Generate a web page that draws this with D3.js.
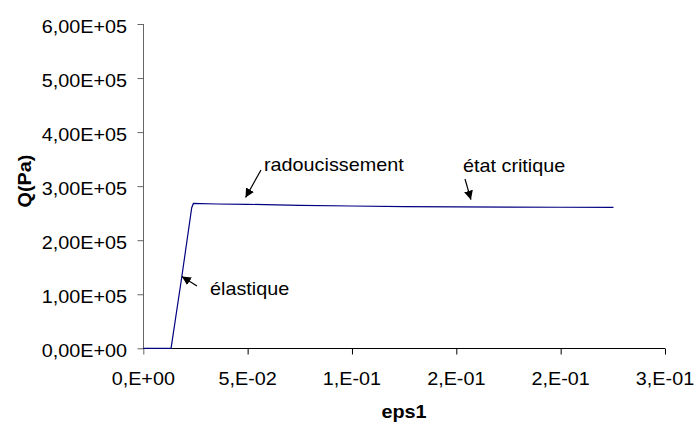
<!DOCTYPE html>
<html>
<head>
<meta charset="utf-8">
<script src="https://cdn.jsdelivr.net/npm/d3@7"></script>
<style>
  html, body { margin: 0; padding: 0; background: #fff; }
  svg { display: block; }
  text { font-family: "Liberation Sans", Arial, sans-serif; fill: #000; }
</style>
</head>
<body>
<svg id="chart" width="698" height="427"></svg>
<script>
// ---- data ----
const eps1 = [0, 0.0133, 0.0184, 0.0232, 0.0240, 0.035, 0.05, 0.075, 0.1, 0.125, 0.15, 0.175, 0.2, 0.2253];
const qPa  = [0, 0, 1.31e5, 2.60e5, 2.68e5, 2.67e5, 2.664e5, 2.645e5, 2.633e5, 2.622e5, 2.615e5, 2.612e5, 2.61e5, 2.607e5];
const xTickValues = [0, 0.05, 0.10, 0.15, 0.20, 0.25];
const xTickLabels = ["0,E+00", "5,E-02", "1,E-01", "2,E-01", "2,E-01", "3,E-01"];
const yTickValues = [0, 1e5, 2e5, 3e5, 4e5, 5e5, 6e5];
const yTickLabels = ["0,00E+00", "1,00E+05", "2,00E+05", "3,00E+05", "4,00E+05", "5,00E+05", "6,00E+05"];
const annLabels = ["radoucissement", "état critique", "élastique"];
const annPoints = [[0.049, 2.66e5], [0.157, 2.62e5], [0.0180, 1.31e5]];

// ---- layout ----
const svg = d3.select("#chart");
const x = d3.scaleLinear().domain([0, 0.25]).range([143.3, 665]);
const y = d3.scaleLinear().domain([0, 6e5]).range([348.3, 24]);
const FS = 18, SX = 1.1;

function txt(g, px, py, s, anchor, bold) {
  return g.append("text")
    .attr("transform", `translate(${px},${py}) scale(${SX},1)`)
    .attr("text-anchor", anchor)
    .style("font-size", FS + "px")
    .style("font-weight", bold ? "bold" : "normal")
    .text(s);
}

// y axis
const yAxis = d3.axisLeft(y).tickValues(yTickValues).tickSize(6).tickFormat(() => "");
const gy = svg.append("g").attr("transform", "translate(143.5,0)").call(yAxis);
gy.select(".domain").attr("stroke", "#666").attr("d", `M-0,${y(6e5)}V${y(0)}`);
gy.selectAll(".tick line").attr("stroke", "#666");
yTickValues.forEach((v, i) => txt(svg, 127, y(v) + 8.5, yTickLabels[i], "end", false));

// x axis
const xAxis = d3.axisBottom(x).tickValues(xTickValues).tickSize(6).tickFormat(() => "");
const gx = svg.append("g").attr("transform", "translate(0,348.5)").call(xAxis);
gx.select(".domain").attr("stroke", "#000").attr("d", `M${x(0)},0H${x(0.25)}`);
gx.selectAll(".tick line").attr("stroke", "#000");
gx.select(".tick line").attr("stroke", "#666");
xTickValues.forEach((v, i) => txt(svg, x(v), 385, xTickLabels[i], "middle", false));

// axis titles
txt(svg, 404, 418, "eps1", "middle", true);
svg.append("text")
  .attr("transform", `translate(31,181) rotate(-90) scale(${SX},1)`)
  .attr("text-anchor", "middle")
  .style("font-size", FS + "px").style("font-weight", "bold")
  .text("Q(Pa)");

// line
const line = d3.line().x(d => x(d[0])).y(d => y(d[1]));
svg.append("path")
  .datum(eps1.map((e, i) => [e, qPa[i]]))
  .attr("d", line)
  .attr("fill", "none")
  .attr("stroke", "#000080")
  .attr("stroke-width", 1.2);

// annotations
svg.append("defs").append("marker")
  .attr("id", "ah").attr("viewBox", "0 0 10 10")
  .attr("refX", 10).attr("refY", 5)
  .attr("markerWidth", 9).attr("markerHeight", 9)
  .attr("markerUnits", "userSpaceOnUse")
  .attr("orient", "auto")
  .append("path").attr("d", "M0,0L10,5L0,10z").attr("fill", "#000");

const annText = [[264, 171, "start"], [463, 172, "start"], [210, 295, "start"]];
const annTail = [[261, 170], [465, 179], [197, 286]];
annLabels.forEach((s, i) => {
  txt(svg, annText[i][0], annText[i][1], s, annText[i][2], false);
  const p = annPoints[i];
  const tx = x(p[0]), ty = y(p[1]) - (i === 2 ? 0 : 7);
  svg.append("line")
    .attr("x1", annTail[i][0]).attr("y1", annTail[i][1])
    .attr("x2", i === 2 ? tx + 1 : tx).attr("y2", i === 2 ? ty - 1 : ty)
    .attr("stroke", "#000").attr("stroke-width", 1.2)
    .attr("marker-end", "url(#ah)");
});
</script>
</body>
</html>
